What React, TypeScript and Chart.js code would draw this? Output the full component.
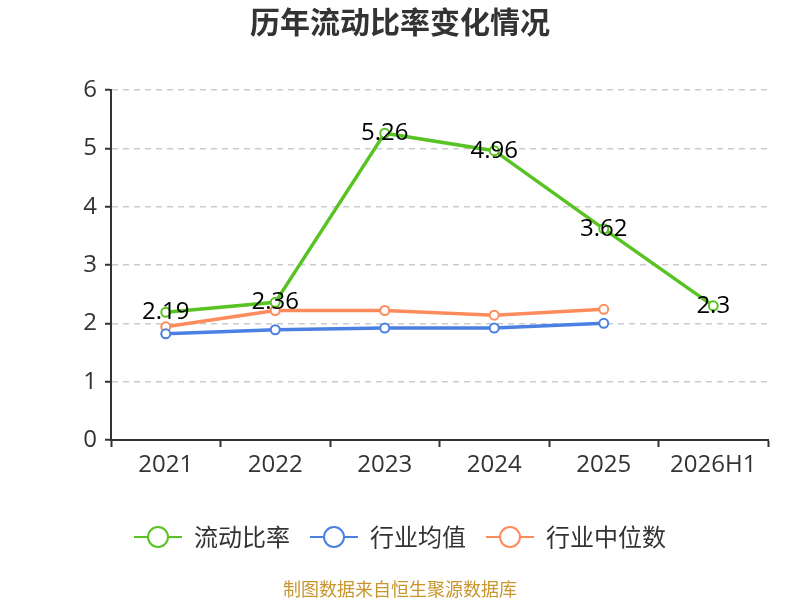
import React, { useEffect, useRef } from 'react';
import { Chart, registerables } from 'chart.js';

Chart.register(...registerables);

const categories = ['2021', '2022', '2023', '2024', '2025', '2026H1'];
const currentRatio = [2.19, 2.36, 5.26, 4.96, 3.62, 2.3];
const industryAvg = [1.82, 1.89, 1.92, 1.92, 2.0, null];
const industryMedian = [1.94, 2.22, 2.22, 2.14, 2.24, null];
const yTicks = [0, 1, 2, 3, 4, 5, 6];

const seriesNames = ['流动比率', '行业均值', '行业中位数'];
const seriesColors = ['#58c322', '#4b80e2', '#fe8b5b'];

const CJK = '"Noto Sans CJK SC", "Noto Sans", sans-serif';
const LATIN = '"Open Sans", "Noto Sans", sans-serif';

// green value labels centred on each point, plus title, legend and footer
const decorPlugin = {
  id: 'decor',
  afterDatasetsDraw(chart: any) {
    const { ctx } = chart;
    const meta = chart.getDatasetMeta(0);
    ctx.save();
    ctx.font = `24px ${LATIN}`;
    ctx.fillStyle = '#000';
    ctx.textAlign = 'center';
    ctx.textBaseline = 'middle';
    meta.data.forEach((pt: any, i: number) => {
      const v = currentRatio[i];
      if (v == null) return;
      ctx.fillText(String(v), pt.x, pt.y);
    });
    ctx.restore();
  },
  afterDraw(chart: any) {
    const { ctx } = chart;
    ctx.save();
    // title
    ctx.font = `bold 30px ${CJK}`;
    ctx.fillStyle = '#333';
    ctx.textAlign = 'center';
    ctx.textBaseline = 'middle';
    ctx.fillText('历年流动比率变化情况', 400, 22);

    // legend
    ctx.font = `24px ${CJK}`;
    const symW = 48;
    const gap = 12;
    const itemGap = 20;
    const widths = seriesNames.map((n) => symW + gap + ctx.measureText(n).width);
    const total = widths.reduce((a, b) => a + b, 0) + itemGap * (seriesNames.length - 1);
    let x = 400 - total / 2;
    const y = 537;
    seriesNames.forEach((name, i) => {
      ctx.strokeStyle = seriesColors[i];
      ctx.lineWidth = 2;
      ctx.beginPath();
      ctx.moveTo(x, y);
      ctx.lineTo(x + symW, y);
      ctx.stroke();
      ctx.beginPath();
      ctx.arc(x + symW / 2, y, 10, 0, Math.PI * 2);
      ctx.fillStyle = '#fff';
      ctx.fill();
      ctx.stroke();
      ctx.fillStyle = '#333';
      ctx.textAlign = 'left';
      ctx.fillText(name, x + symW + gap, y);
      x += widths[i] + itemGap;
    });

    // footer
    ctx.font = `18px ${CJK}`;
    ctx.fillStyle = '#c8962e';
    ctx.textAlign = 'center';
    ctx.fillText('制图数据来自恒生聚源数据库', 400, 589);
    ctx.restore();
  },
};

export default function App() {
  const canvasRef = useRef<HTMLCanvasElement | null>(null);
  const chartRef = useRef<Chart | null>(null);

  useEffect(() => {
    const canvas = canvasRef.current;
    if (!canvas) return;
    const ctx = canvas.getContext('2d');
    if (!ctx) return;

    const mk = (label: string, data: (number | null)[], color: string) => ({
      label,
      data,
      borderColor: color,
      backgroundColor: '#fff',
      borderWidth: 3.5,
      pointRadius: 4.5,
      pointBorderWidth: 2,
      pointBackgroundColor: '#fff',
      pointBorderColor: color,
      tension: 0,
      spanGaps: false,
    });

    chartRef.current = new Chart(ctx, {
      type: 'line',
      data: {
        labels: categories,
        datasets: [
          mk(seriesNames[0], currentRatio, seriesColors[0]),
          mk(seriesNames[1], industryAvg, seriesColors[1]),
          mk(seriesNames[2], industryMedian, seriesColors[2]),
        ],
      },
      options: {
        animation: false,
        responsive: false,
        devicePixelRatio: 1,
        layout: { padding: { top: 90, right: 32, bottom: 110, left: 0 } },
        plugins: {
          legend: { display: false },
          title: { display: false },
          tooltip: { enabled: false },
        },
        scales: {
          x: {
            offset: true,
            grid: { offset: true, color: 'rgba(0,0,0,0)', tickColor: '#333', tickLength: 7, tickWidth: 2 },
            border: { color: '#333', width: 2 },
            ticks: {
              color: '#333',
              padding: 4,
              font: { size: 24, family: LATIN },
            },
            afterFit: (s: any) => {
              s.height = 50;
            },
          },
          y: {
            min: 0,
            max: 6,
            afterBuildTicks: (s: any) => {
              s.ticks = yTicks.map((v) => ({ value: v }));
            },
            grid: { color: '#cccccc', tickColor: '#333', tickLength: 6, tickWidth: 2, lineWidth: 1.5 },
            border: { color: '#333', width: 2, dash: [6, 5] },
            ticks: {
              color: '#333',
              padding: 8,
              font: { size: 24, family: LATIN },
            },
            afterFit: (s: any) => {
              s.width = 111;
            },
          },
        },
      },
      plugins: [decorPlugin],
    });

    return () => {
      chartRef.current?.destroy();
      chartRef.current = null;
    };
  }, []);

  return (
    <div style={{ position: 'fixed', left: 0, top: 0, width: 800, height: 600, background: '#fff' }}>
      <canvas ref={canvasRef} width={800} height={600} />
    </div>
  );
}
